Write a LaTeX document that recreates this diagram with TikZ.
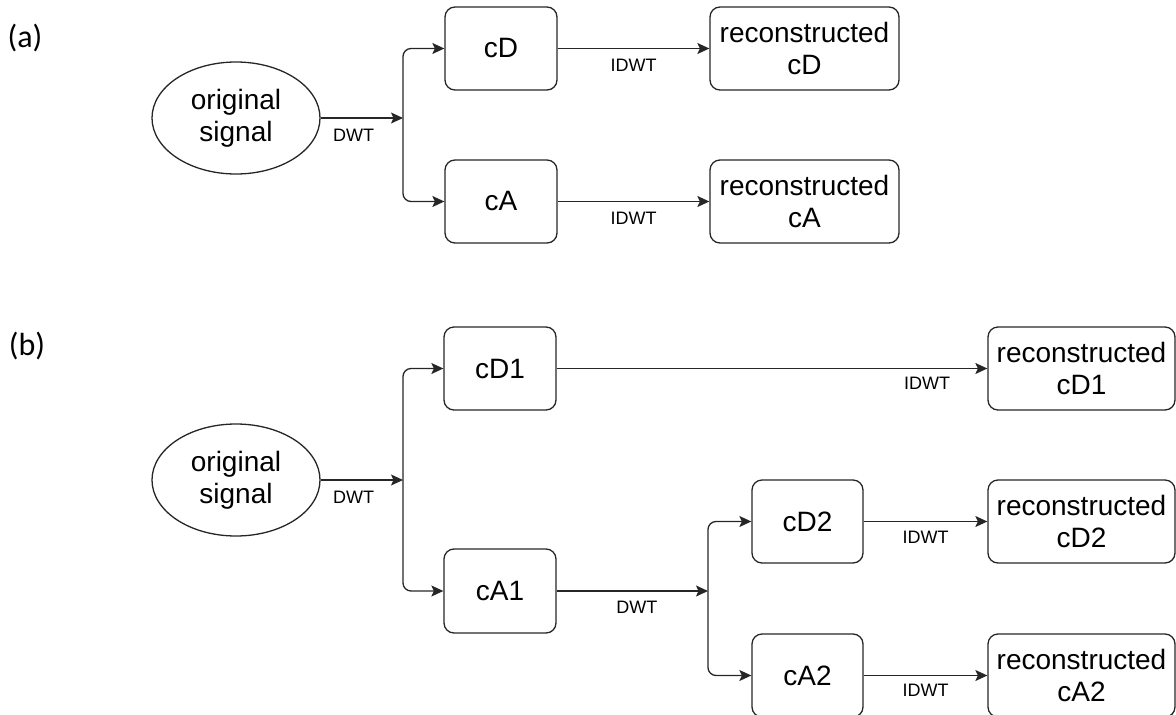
\documentclass[tikz,border=0pt]{standalone}
\usepackage{fontspec}
\setmainfont{Liberation Sans}
\newfontfamily\labfont{Carlito}
\usetikzlibrary{arrows.meta,shapes.geometric}
\tikzset{
  box/.style={draw=black!85, line width=1.3pt, rounded corners=10pt, inner sep=0pt,
    align=center, font=\fontsize{28}{32}\selectfont},
  oval/.style={ellipse, draw=black!85, line width=1.3pt, inner sep=0pt,
    minimum width=168pt, minimum height=112pt, align=center, font=\fontsize{28}{32}\selectfont},
  conn/.style={draw=black!85, line width=1.3pt, -{Stealth[length=12pt,width=11pt,inset=2.5pt]}},
  branch/.style={conn, rounded corners=8pt},
  elab/.style={font=\fontsize{18}{20}\selectfont, inner sep=0pt},
  tag/.style={font=\labfont\fontsize{32}{36}\selectfont, inner sep=0pt}
}
\begin{document}
\begin{tikzpicture}[x=1pt,y=-1pt]
\useasboundingbox (0,0) rectangle (1176,715);
% ---------- (a) ----------
\node[tag] (ta) at (25,38) {(a)};
\node[oval] (oa) at (236,118) {original\\signal};
\coordinate (ja) at (403,118);
\node[box, minimum width=112pt, minimum height=83pt] (cD) at (501,48.5) {cD};
\node[box, minimum width=112pt, minimum height=83pt] (cA) at (501,201.5) {cA};
\node[box, minimum width=189pt, minimum height=83pt] (rcD) at (804.5,48.5) {reconstructed\\cD};
\node[box, minimum width=189pt, minimum height=83pt] (rcA) at (804.5,201.5) {reconstructed\\cA};
\draw[conn] (oa.east) -- node[elab, pos=0.4, yshift=-17pt] {DWT} (ja);
\draw[branch] (ja) |- (cD.west);
\draw[branch] (ja) |- (cA.west);
\draw[conn] (cD.east) -- node[elab, midway, yshift=-17pt] {IDWT} (rcD.west);
\draw[conn] (cA.east) -- node[elab, midway, yshift=-17pt] {IDWT} (rcA.west);
% ---------- (b) ----------
\node[tag] (tb) at (27,346) {(b)};
\node[oval] (ob) at (236,480) {original\\signal};
\coordinate (jb) at (403,480);
\node[box, minimum width=112pt, minimum height=83pt] (cD1) at (500,368.5) {cD1};
\node[box, minimum width=112pt, minimum height=84pt] (cA1) at (500,591) {cA1};
\node[box, minimum width=187pt, minimum height=83pt] (rcD1) at (1081.5,368.5) {reconstructed\\cD1};
\coordinate (jc) at (708,591);
\node[box, minimum width=111pt, minimum height=83pt] (cD2) at (807.5,521.5) {cD2};
\node[box, minimum width=111pt, minimum height=83pt] (cA2) at (807.5,675.5) {cA2};
\node[box, minimum width=187pt, minimum height=83pt] (rcD2) at (1081.5,521.5) {reconstructed\\cD2};
\node[box, minimum width=187pt, minimum height=83pt] (rcA2) at (1081.5,675.5) {reconstructed\\cA2};
\draw[conn] (ob.east) -- node[elab, pos=0.4, yshift=-17pt] {DWT} (jb);
\draw[branch] (jb) |- (cD1.west);
\draw[branch] (jb) |- (cA1.west);
\draw[conn] (cD1.east) -- node[elab, pos=0.86, yshift=-15pt] {IDWT} (rcD1.west);
\draw[conn] (cA1.east) -- node[elab, pos=0.53, yshift=-16pt] {DWT} (jc);
\draw[branch] (jc) |- (cD2.west);
\draw[branch] (jc) |- (cA2.west);
\draw[conn] (cD2.east) -- node[elab, midway, yshift=-16pt] {IDWT} (rcD2.west);
\draw[conn] (cA2.east) -- node[elab, midway, yshift=-15pt] {IDWT} (rcA2.west);
\end{tikzpicture}
\end{document}
